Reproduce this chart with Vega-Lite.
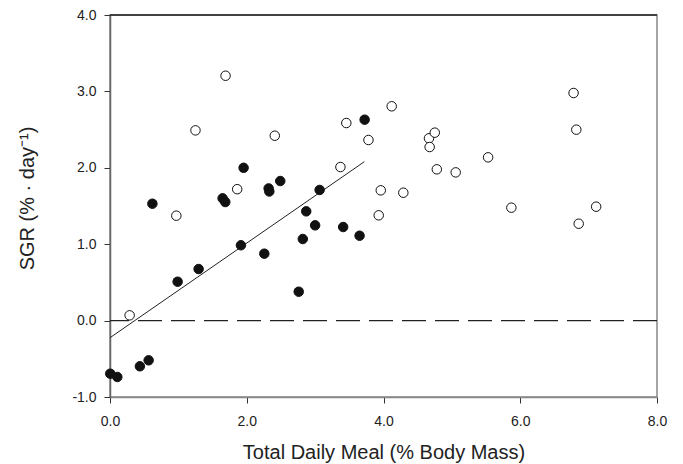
{
  "$schema": "https://vega.github.io/schema/vega-lite/v6.json",
  "width": 547,
  "height": 382,
  "autosize": "none",
  "padding": {"left": 110, "top": 15, "right": 26, "bottom": 67},
  "background": "white",
  "config": {
    "view": {"stroke": "#888888", "strokeWidth": 1.5},
    "font": "Liberation Sans",
    "axis": {
      "grid": false,
      "labelFont": "Liberation Sans",
      "titleFont": "Liberation Sans",
      "labelFontSize": 14,
      "titleFontSize": 20,
      "titleFontWeight": "normal",
      "labelColor": "#222222",
      "titleColor": "#222222",
      "tickColor": "#333333",
      "tickSize": 6,
      "labelFlush": false,
      "labelOverlap": false,
      "domainColor": "#666666",
      "domainWidth": 1.5
    }
  },
  "datasets": {
    "pts": [
      {"meal": 0.004, "sgr": -0.695, "group": "filled"},
      {"meal": 0.107, "sgr": -0.738, "group": "filled"},
      {"meal": 0.437, "sgr": -0.598, "group": "filled"},
      {"meal": 0.565, "sgr": -0.52, "group": "filled"},
      {"meal": 0.62, "sgr": 1.53, "group": "filled"},
      {"meal": 0.989, "sgr": 0.509, "group": "filled"},
      {"meal": 1.296, "sgr": 0.675, "group": "filled"},
      {"meal": 1.647, "sgr": 1.6, "group": "filled"},
      {"meal": 1.686, "sgr": 1.552, "group": "filled"},
      {"meal": 1.915, "sgr": 0.986, "group": "filled"},
      {"meal": 1.954, "sgr": 2.0, "group": "filled"},
      {"meal": 2.257, "sgr": 0.876, "group": "filled"},
      {"meal": 2.32, "sgr": 1.73, "group": "filled"},
      {"meal": 2.33, "sgr": 1.69, "group": "filled"},
      {"meal": 2.49, "sgr": 1.827, "group": "filled"},
      {"meal": 2.76, "sgr": 0.378, "group": "filled"},
      {"meal": 2.82, "sgr": 1.068, "group": "filled"},
      {"meal": 2.87, "sgr": 1.43, "group": "filled"},
      {"meal": 3.0, "sgr": 1.247, "group": "filled"},
      {"meal": 3.066, "sgr": 1.71, "group": "filled"},
      {"meal": 3.41, "sgr": 1.225, "group": "filled"},
      {"meal": 3.65, "sgr": 1.111, "group": "filled"},
      {"meal": 3.724, "sgr": 2.63, "group": "filled"},
      {"meal": 0.287, "sgr": 0.069, "group": "open"},
      {"meal": 0.97, "sgr": 1.373, "group": "open"},
      {"meal": 1.25, "sgr": 2.49, "group": "open"},
      {"meal": 1.69, "sgr": 3.205, "group": "open"},
      {"meal": 1.86, "sgr": 1.72, "group": "open"},
      {"meal": 2.41, "sgr": 2.42, "group": "open"},
      {"meal": 3.37, "sgr": 2.01, "group": "open"},
      {"meal": 3.456, "sgr": 2.586, "group": "open"},
      {"meal": 3.78, "sgr": 2.364, "group": "open"},
      {"meal": 3.93, "sgr": 1.378, "group": "open"},
      {"meal": 3.96, "sgr": 1.705, "group": "open"},
      {"meal": 4.12, "sgr": 2.805, "group": "open"},
      {"meal": 4.29, "sgr": 1.674, "group": "open"},
      {"meal": 4.665, "sgr": 2.386, "group": "open"},
      {"meal": 4.675, "sgr": 2.272, "group": "open"},
      {"meal": 4.75, "sgr": 2.46, "group": "open"},
      {"meal": 4.78, "sgr": 1.98, "group": "open"},
      {"meal": 5.056, "sgr": 1.94, "group": "open"},
      {"meal": 5.53, "sgr": 2.137, "group": "open"},
      {"meal": 5.87, "sgr": 1.478, "group": "open"},
      {"meal": 6.78, "sgr": 2.979, "group": "open"},
      {"meal": 6.82, "sgr": 2.499, "group": "open"},
      {"meal": 6.855, "sgr": 1.268, "group": "open"},
      {"meal": 7.11, "sgr": 1.491, "group": "open"}
    ],
    "fit": [
      {"meal": 0.0, "sgr": -0.224},
      {"meal": 3.72, "sgr": 2.08}
    ],
    "refs": [
      {"level": 0}
    ]
  },
  "layer": [
    {
      "data": {"name": "refs"},
      "mark": {"type": "rule", "color": "#222222", "strokeWidth": 1.2, "strokeDash": [24, 9]},
      "encoding": {"y": {"field": "level", "type": "quantitative"}}
    },
    {
      "data": {"name": "refs"},
      "mark": {"type": "rule", "color": "#222222", "strokeWidth": 1.5},
      "encoding": {"y": {"datum": 4, "type": "quantitative"}}
    },
    {
      "data": {"name": "fit"},
      "mark": {"type": "line", "color": "#222222", "strokeWidth": 1},
      "encoding": {
        "x": {"field": "meal", "type": "quantitative"},
        "y": {"field": "sgr", "type": "quantitative"}
      }
    },
    {
      "data": {"name": "pts"},
      "mark": {"type": "point", "filled": true, "shape": "circle", "size": 90, "stroke": "#111111", "strokeWidth": 1, "opacity": 1},
      "encoding": {
        "x": {
          "field": "meal", "type": "quantitative",
          "scale": {"domain": [0, 8], "nice": false, "zero": false},
          "axis": {"title": "Total Daily Meal (% Body Mass)", "values": [0, 2, 4, 6, 8], "format": ".1f", "labelPadding": 11, "titleY": 45, "titleBaseline": "top", "domainColor": "#888888"}
        },
        "y": {
          "field": "sgr", "type": "quantitative",
          "scale": {"domain": [-1, 4], "nice": false, "zero": false},
          "axis": {"title": "SGR (% · day⁻¹)", "values": [-1, 0, 1, 2, 3, 4], "format": ".1f", "labelExpr": "replace(datum.label, '\u2212', '-')", "labelPadding": 8, "titleX": -77, "titleY": 183, "titleBaseline": "alphabetic"}
        },
        "fill": {
          "field": "group", "type": "nominal",
          "scale": {"domain": ["filled", "open"], "range": ["#111111", "#ffffff"]},
          "legend": null
        }
      }
    }
  ]
}
